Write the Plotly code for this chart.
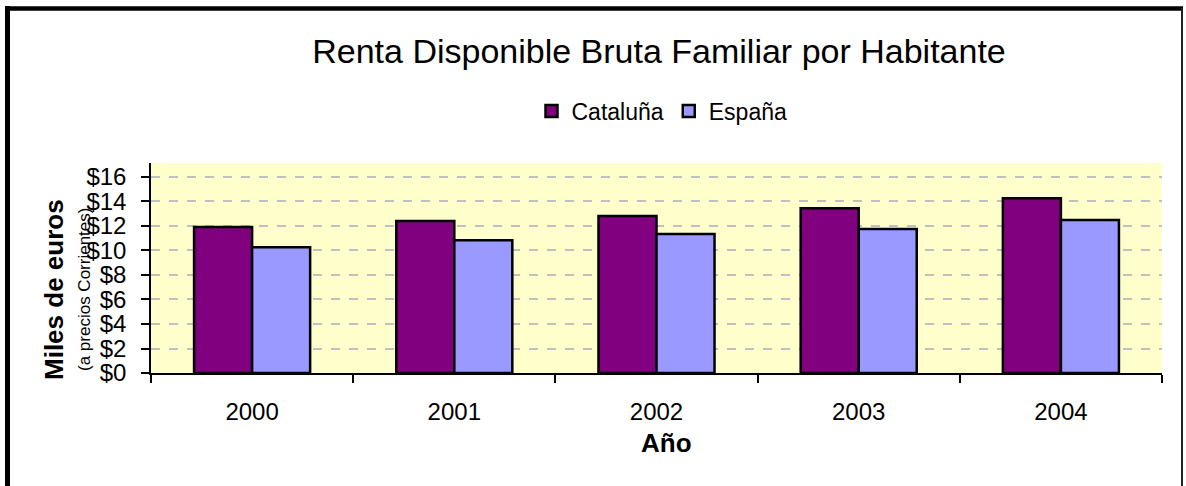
import plotly.graph_objects as go

years = ["2000", "2001", "2002", "2003", "2004"]
cataluna = [11.92, 12.41, 12.82, 13.44, 14.26]
espana = [10.26, 10.83, 11.35, 11.76, 12.49]
series_names = ["Cataluña", "España"]
title_text = "Renta Disponible Bruta Familiar por Habitante"

W, H = 1186, 486
L, R, T, B = 151, 1162, 163, 373  # plot area pixel box
pw, ph = R - L, B - T


def px(x):
    return (x - L) / pw


def py(y):
    return (B - y) / ph


FONT = "Liberation Sans, Arial, sans-serif"

fig = go.Figure()
fig.add_trace(go.Bar(name=series_names[0], x=years, y=cataluna,
                     marker=dict(color="#800080", line=dict(color="#000000", width=2.5))))
fig.add_trace(go.Bar(name=series_names[1], x=years, y=espana,
                     marker=dict(color="#9999FF", line=dict(color="#000000", width=2.5))))

fig.update_layout(
    width=W, height=H,
    margin=dict(l=L, r=W - R, t=T, b=H - B, pad=0),
    paper_bgcolor="#FFFFFF",
    plot_bgcolor="#FFFFCC",
    font=dict(family=FONT, color="#000000"),
    barmode="group",
    bargap=0.426,
    bargroupgap=0,
    title=dict(text=title_text, font=dict(size=34, family=FONT, color="#000000"),
               x=px(659), xref="paper", xanchor="center",
               y=1 - 51 / H, yref="container", yanchor="middle"),
    legend=dict(orientation="h", x=px(662), xanchor="center", y=py(111), yanchor="middle",
                font=dict(size=23, family=FONT), itemwidth=30, bgcolor="rgba(0,0,0,0)"),
    showlegend=True,
)

fig.update_xaxes(
    type="category",
    showline=True, linecolor="#000000", linewidth=1.5,
    ticks="outside", ticklen=8, tickcolor="#000000", tickwidth=1.5,
    tickson="boundaries",
    tickfont=dict(size=24, family=FONT),
    ticklabelstandoff=16,
    showgrid=False,
)
fig.update_yaxes(
    range=[0, 17.14],
    tick0=0, dtick=2,
    tickprefix="$",
    showline=True, linecolor="#000000", linewidth=1.5,
    ticks="outside", ticklen=8, tickcolor="#000000", tickwidth=1.5,
    tickfont=dict(size=24, family=FONT),
    ticklabelstandoff=10,
    showgrid=True, gridcolor="#C0C0C0", gridwidth=2, griddash="dash",
    zeroline=False,
)

annotations = [
    dict(text="<b>Miles de euros</b>", textangle=-90, x=px(54), y=py(290),
         xref="paper", yref="paper", showarrow=False, xanchor="center", yanchor="middle",
         font=dict(size=26, family=FONT)),
    dict(text="(a precios Corrientes)", textangle=-90, x=px(84), y=py(290),
         xref="paper", yref="paper", showarrow=False, xanchor="center", yanchor="middle",
         font=dict(size=17, family=FONT)),
    dict(text="<b>Año</b>", x=px(666), y=py(443),
         xref="paper", yref="paper", showarrow=False, xanchor="center", yanchor="middle",
         font=dict(size=26, family=FONT)),
]
fig.update_layout(annotations=annotations)

shapes = [
    dict(type="line", xref="paper", yref="paper", x0=px(7.5), x1=px(7.5), y0=py(6), y1=py(495),
         line=dict(color="#000000", width=5)),
    dict(type="line", xref="paper", yref="paper", x0=px(5), x1=px(1183), y0=py(8.5), y1=py(8.5),
         line=dict(color="#000000", width=4.5)),
    dict(type="line", xref="paper", yref="paper", x0=px(1182), x1=px(1182), y0=py(8), y1=py(495),
         line=dict(color="#222222", width=2)),
]
fig.update_layout(shapes=shapes)

fig.write_html(
    "out.html",
    config={"displayModeBar": False},
    post_script="document.body.style.margin='0';document.body.style.overflow='hidden';",
)
